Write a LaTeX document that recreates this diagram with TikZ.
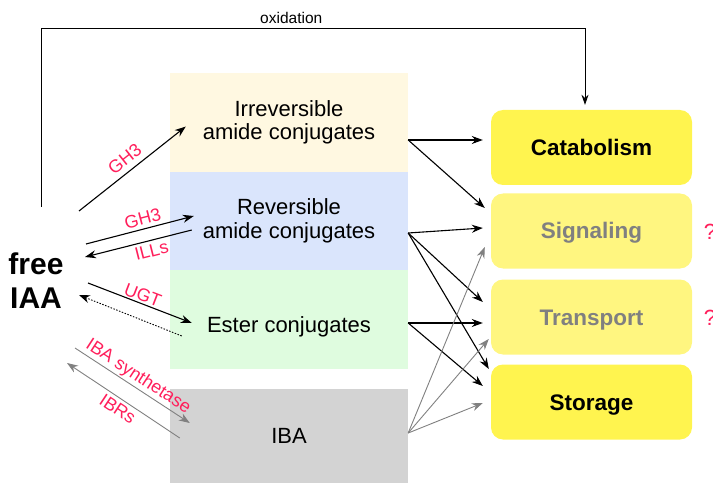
\documentclass[tikz,border=0pt]{standalone}
\usepackage{fontspec}
\setmainfont{Liberation Sans}
\usetikzlibrary{positioning, arrows.meta, calc}
\definecolor{mPink}{HTML}{FF1F5B}
\definecolor{mYellow}{HTML}{FFF44F}
\definecolor{mPale}{HTML}{FFF680}
\definecolor{mCream}{HTML}{FFF8E1}
\definecolor{mBlue}{HTML}{DAE5FC}
\definecolor{mMint}{HTML}{DFFCDF}
\definecolor{mGrey}{HTML}{D3D3D3}
\definecolor{mMuted}{HTML}{808080}

\begin{document}
\begin{tikzpicture}[x=1pt, y=1pt,
  pool/.style={rectangle, minimum width=238pt, minimum height=99pt,
               inner sep=0pt, align=center,
               font=\fontsize{22}{23.5}\selectfont},
  fate/.style={rounded corners=12pt, minimum width=201pt,
               minimum height=75pt, inner sep=0pt,
               text height=16pt, text depth=0pt,
               font=\fontsize{22.5}{26}\selectfont\bfseries},
  enz/.style={font=\fontsize{18}{21}\selectfont, text=mPink, inner sep=1.5pt},
  arr/.style={-{Stealth[length=11pt, width=8pt]}, line width=1.1pt},
  rarr/.style={{Stealth[length=11pt, width=8pt]}-, line width=1.1pt},
  garr/.style={-{Stealth[length=11pt, width=8pt]}, line width=0.9pt, draw=mMuted},
]
  \useasboundingbox (0,0) rectangle (713,483);

  % free hormone
  \node[align=center, font=\fontsize{30}{34}\selectfont\bfseries] (iaa) at (36,202) {free\\IAA};

  % conjugate pools
  \node[pool, fill=mCream] (irr) at (289,360.5) {Irreversible\\amide conjugates};
  \node[pool, fill=mBlue, minimum height=98pt] (rev) at (289,262) {Reversible\\amide conjugates};
  \node[pool, fill=mMint, text height=30pt, text depth=4.6pt] (est) at (289,163.5) {Ester conjugates};
  \node[pool, fill=mGrey, minimum height=94pt] (iba) at (289,47) {IBA};

  % fates
  \node[fate, fill=mYellow] (cat) at (591.5,335.5) {Catabolism};
  \node[fate, fill=mPale, text=mMuted] (sig) at (591.5,252) {Signaling};
  \node[fate, fill=mPale, text=mMuted] (tra) at (591.5,166) {Transport};
  \node[fate, fill=mYellow] (sto) at (591.5,81) {Storage};
  \node[enz, font=\fontsize{22}{26}\selectfont] (q1) at (710,251) {?};
  \node[enz, font=\fontsize{22}{26}\selectfont] (q2) at (710,165) {?};

  % oxidation route over the top
  \coordinate (oxup) at (41,455);
  \draw[-{Stealth[length=10pt, width=7pt]}, line width=0.8pt]
    ($(iaa)+(5,74)$) -- (oxup)
    -| node[pos=0.23, above=1pt, font=\fontsize{15.5}{18}\selectfont] {oxidation}
    ([shift={(-6.5,5)}]cat.north);

  % conjugation and hydrolysis
  \draw[arr] ($(iaa)+(43,70)$) -- node[enz, above=4pt, sloped] {GH3} ($(irr.west)+(16,-4)$);
  \draw[arr] ($(iaa)+(50,37)$) -- node[enz, above=2pt, sloped, pos=0.55] {GH3} ($(rev.west)+(24,5)$);
  \draw[rarr] ($(iaa)+(49,24)$) -- node[enz, below=2pt, sloped, pos=0.6] {ILLs} ($(rev.west)+(22,-9)$);
  \draw[arr] ($(iaa)+(52,-2)$) -- node[enz, above, sloped] {UGT} ($(est.west)+(22,-3.5)$);
  \draw[rarr, line width=0.9pt, dash pattern=on 1.5pt off 1.5pt] ($(iaa)+(43,-14)$) -- ($(est.west)+(12,-16.5)$);
  \draw[garr] ($(iaa)+(39,-67)$) -- node[enz, above=0pt, sloped, pos=0.5] {IBA synthetase} ($(iba.west)+(20,13)$);
  \draw[garr, {Stealth[length=11pt, width=8pt]}-] ($(iaa)+(31,-82)$) -- node[enz, below=2pt, sloped] {IBRs} ($(iba.west)+(10,-2)$);

  % routes to fates
  \draw[arr] ([yshift=-17.5pt]irr.east) -- ([shift={(-8,7.5)}]cat.west);
  \draw[arr] ([yshift=-17.5pt]irr.east) -- ([shift={(-6,23)}]sig.west);
  \draw[arr] ([yshift=-12pt]rev.east) -- ([shift={(-8,3)}]sig.west);
  \draw[arr] ([yshift=-12pt]rev.east) -- ([shift={(-8,15)}]tra.west);
  \draw[arr] ([yshift=-12pt]rev.east) -- ([shift={(-2,33)}]sto.west);
  \draw[arr] ([yshift=-3.5pt]est.east) -- ([shift={(-8,-6)}]tra.west);
  \draw[arr] ([yshift=-3.5pt]est.east) -- ([shift={(-8,16)}]sto.west);
  \draw[garr] ([yshift=3pt]iba.east) -- ([shift={(-6,-16)}]sig.west);
  \draw[garr] ([yshift=3pt]iba.east) -- ([shift={(-2,-22)}]tra.west);
  \draw[garr] ([yshift=3pt]iba.east) -- ([shift={(-8,-1)}]sto.west);
\end{tikzpicture}
\end{document}
